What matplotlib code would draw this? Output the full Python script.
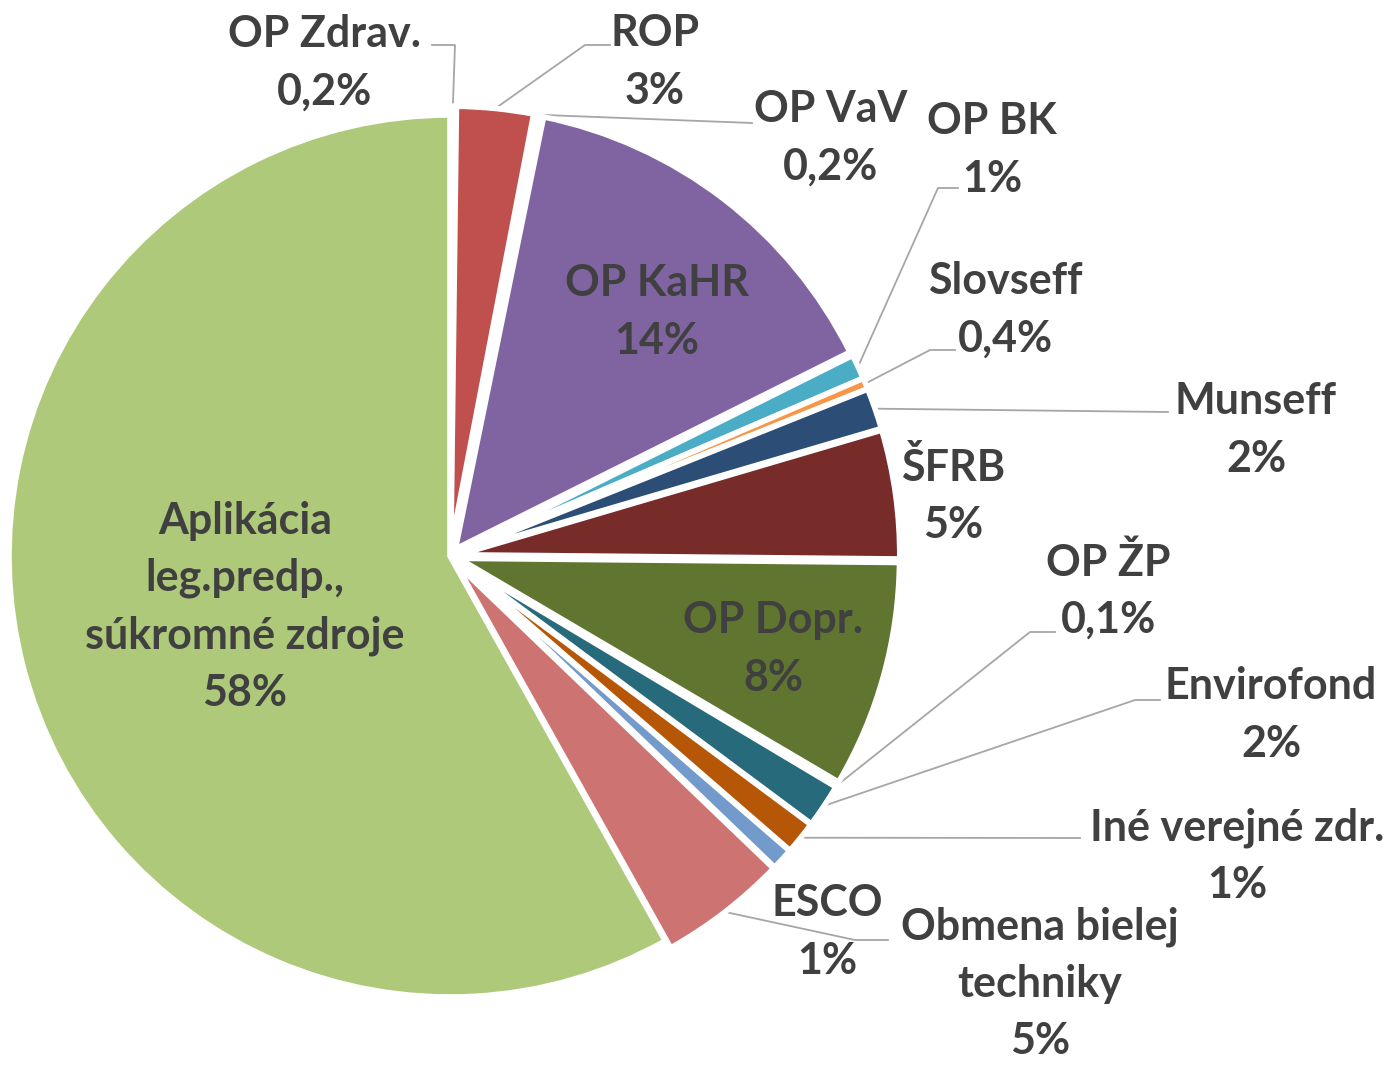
import numpy as np
import matplotlib.pyplot as plt

# data, clockwise from 12 o'clock
labels = ['OP Zdrav.', 'ROP', 'OP VaV', 'OP KaHR', 'OP BK', 'Slovseff', 'Munseff', 'ŠFRB',
          'OP Dopr.', 'OP ŽP', 'Envirofond', 'Iné verejné zdr.', 'ESCO',
          'Obmena bielej\ntechniky', 'Aplikácia\nleg.predp.,\nsúkromné zdroje']
shares = [0.2, 2.8, 0.2, 14.4, 0.9, 0.4, 1.5, 4.7, 8.3, 0.1, 1.6, 1.2, 0.8, 4.7, 58.0]
pct_text = ['0,2%', '3%', '0,2%', '14%', '1%', '0,4%', '2%', '5%',
            '8%', '0,1%', '2%', '1%', '1%', '5%', '58%']
colors = ['#4F81BD', '#C0504D', '#9BBB59', '#8064A2', '#4BACC6', '#F79646', '#2C4D75', '#772C2A',
          '#5F7530', '#4D3B62', '#276A7C', '#B65708', '#729ACA', '#CD7371', '#AFC97A']

# label placement (pixel centres) and leader line bends (pixels)
label_px = [(324, 63), (655, 62), (831, 138), (657, 312), (992, 150), (1005, 310), (1256, 430),
            (953, 496), (773, 649), (1108, 591), (1271, 715), (1237, 856), (827, 932),
            (1040, 984), (245, 607)]
leaders = {0: [(432, 45), (455, 45)], 1: [(610, 45), (585, 45)], 2: [(752, 123)],
           4: [(958, 188), (938, 188)], 5: [(955, 350), (930, 350)], 6: [(1168, 412)],
           9: [(1055, 632), (1030, 632)], 10: [(1160, 700), (1135, 700)], 11: [(1080, 838)],
           13: [(888, 940), (855, 940)]}

W, H = 1399, 1067
CX, CY, R = 450, 556, 441
TXT = '#404040'


def px(x, y):
    return (x - CX) / R, (CY - y) / R


fig = plt.figure(figsize=(W / 100, H / 100), dpi=100)
ax = fig.add_axes([0, 0, 1, 1])

explode = [0.02] * (len(shares) - 1) + [0.0]
wedges, _ = ax.pie(shares, colors=colors, startangle=90, counterclock=False, explode=explode,
                   radius=1.0, center=(0, 0), wedgeprops=dict(edgecolor='white', linewidth=4))

ax.set_xlim(-CX / R, (W - CX) / R)
ax.set_ylim(-(H - CY) / R, CY / R)
ax.set_aspect('equal')
ax.axis('off')

for i, w in enumerate(wedges):
    lx, ly = px(*label_px[i])
    ax.text(lx, ly, labels[i] + '\n' + pct_text[i], ha='center', va='center', fontsize=31,
            fontweight='bold', family=['Lato', 'DejaVu Sans'], color=TXT, linespacing=1.52)
    if i in leaders:
        mid = np.deg2rad((w.theta1 + w.theta2) / 2)
        ex, ey = w.center[0] + w.r * np.cos(mid), w.center[1] + w.r * np.sin(mid)
        pts = [px(*p) for p in leaders[i]] + [(ex, ey)]
        xs, ys = zip(*pts)
        ax.plot(xs, ys, color='#A6A6A6', lw=1.3, zorder=0)

fig.savefig('out.png', dpi=100, facecolor='white')
